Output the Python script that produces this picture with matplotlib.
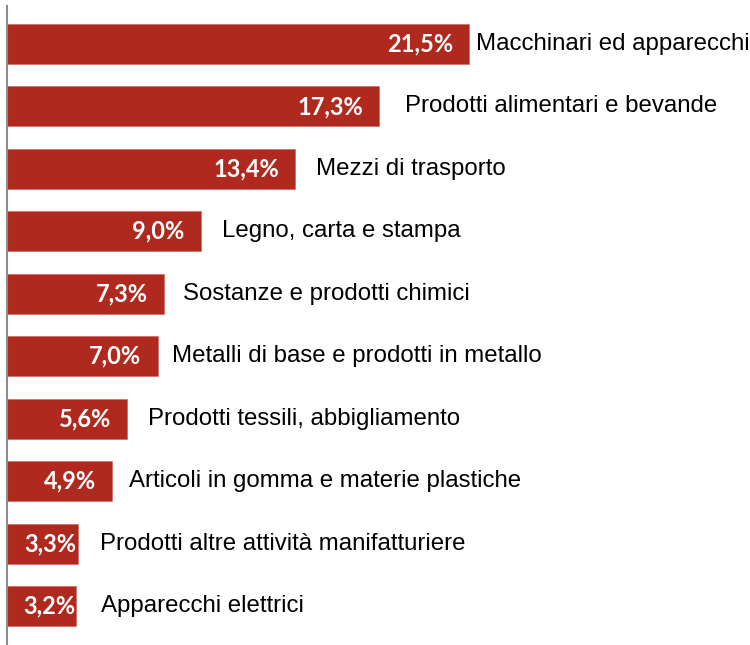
import numpy as np
import matplotlib.pyplot as plt

categories = [
    "Macchinari ed apparecchi",
    "Prodotti alimentari e bevande",
    "Mezzi di trasporto",
    "Legno, carta e stampa",
    "Sostanze e prodotti chimici",
    "Metalli di base e prodotti in metallo",
    "Prodotti tessili, abbigliamento",
    "Articoli in gomma e materie plastiche",
    "Prodotti altre attività manifatturiere",
    "Apparecchi elettrici",
]
shares = [21.5, 17.3, 13.4, 9.0, 7.3, 7.0, 5.6, 4.9, 3.3, 3.2]

# gap (px) between bar end and category label, as in the original layout
label_gaps = [7, 26, 21, 21, 19, 14, 21, 17, 22, 25]

BAR_COLOR = "#B0291F"
DPI = 100
PX_PER_UNIT = 21.5

fig = plt.figure(figsize=(7.5, 6.45), dpi=DPI)
left_px, top_px = 7, 6
ax = fig.add_axes([left_px / 750, 0, (750 - left_px) / 750, (645 - top_px) / 645])

y = np.arange(len(categories))
ax.barh(y, shares, height=0.64, color=BAR_COLOR, edgecolor="#c9605a", linewidth=0.4)

ax.set_xlim(0, (750 - left_px) / PX_PER_UNIT)
ax.set_ylim(9.625, -0.609)

to_pt = 72 / DPI
for i, (cat, v) in enumerate(zip(categories, shares)):
    bar_px = v * PX_PER_UNIT
    pad = min(16, max(bar_px - 69, 0))
    ax.annotate(f"{v:.1f}%".replace(".", ","), (v, i), xytext=(-pad * to_pt, 0),
                textcoords="offset points", ha="right", va="center",
                color="white", fontsize=17, fontweight="bold", family="Lato")
    ax.annotate(cat, (v, i), xytext=(label_gaps[i] * to_pt, 0),
                textcoords="offset points", ha="left", va="center",
                color="black", fontsize=17.3, family="Liberation Sans")

for s in ["top", "right", "bottom"]:
    ax.spines[s].set_visible(False)
ax.spines["left"].set_color("#8c8c8c")
ax.spines["left"].set_linewidth(1.5)
ax.set_xticks([])
ax.set_yticks([])

fig.savefig("out.png", dpi=DPI)
